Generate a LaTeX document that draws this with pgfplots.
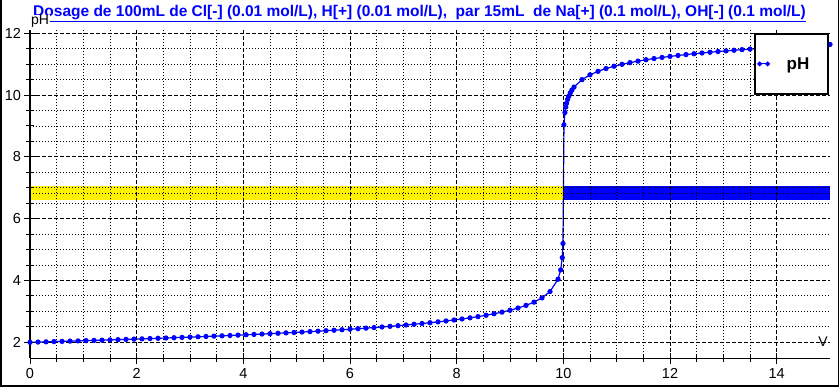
\documentclass[border=0pt]{standalone}
\usepackage{fontspec}
\setmainfont{Liberation Sans}
\usepackage{pgfplots}
\pgfplotsset{compat=1.18}
\begin{document}
\begin{tikzpicture}[x=1pt,y=1pt]
\useasboundingbox (0,0) rectangle (840,387);
\fill[white] (0,0) rectangle (840,387);
\draw[line width=1.5pt] (0.75,387) -- (0.75,0.75) -- (838.5,0.75) -- (838.5,387);
\begin{axis}[
  at={(30pt,28.7pt)}, anchor=south west, scale only axis,
  width=800pt, height=328.3pt,
  xmin=0, xmax=15, ymin=1.482, ymax=12.107,
  axis x line*=bottom, axis y line*=left,
  axis line style={line width=1.5pt, black, -},
  axis on top,
  xtick={0,2,...,14}, ytick={2,4,...,12},
  minor x tick num=3, minor y tick num=3,
  grid=both,
  major grid style={black, line width=0.9pt, dash pattern=on 4pt off 2pt},
  minor grid style={black, line width=0.9pt, dash pattern=on 1pt off 2pt},
  tick align=center, major tick length=11pt, minor tick length=8pt,
  tick style={black, line width=1pt},
  /pgf/number format/assume math mode=true,
  ticklabel style={font=\fontsize{14.5}{16}\selectfont},
  xticklabel style={yshift=-1pt},
  clip=true,
  legend style={at={(rel axis cs:0.9988,0.991)}, anchor=north east,
    draw=black, line width=2pt, fill=white, minimum width=56pt, minimum height=56pt,
    font=\fontsize{17}{19}\selectfont\bfseries, inner sep=2pt},
  legend image code/.code={\draw[blue,line width=1pt] (0pt,0pt)--(8pt,0pt);
    \fill[blue] (0pt,0pt) circle (1.8pt); \fill[blue] (8pt,0pt) circle (1.8pt);},
]
\addplot[fill=yellow, draw=none, forget plot] coordinates {(0,6.59) (10,6.59) (10,7.05) (0,7.05)} -- cycle;
\addplot[fill=blue, draw=none, forget plot] coordinates {(10,6.59) (15,6.59) (15,7.05) (10,7.05)} -- cycle;
\addplot[black, line width=0.9pt, dash pattern=on 1pt off 2pt, forget plot] coordinates {(0,6.82) (15,6.82)};
\addplot[blue, line width=1.2pt, mark=*, mark size=2pt, mark options={fill=blue}] coordinates {
(0,2.000)(0.15,2.0072)(0.30,2.0145)(0.45,2.0219)(0.60,2.0295)(0.75,2.0371)(0.90,2.0449)(1.05,2.0527)(1.20,2.0607)(1.35,2.0688)(1.50,2.0770)(1.65,2.0854)(1.80,2.0939)(1.95,2.1026)(2.10,2.1114)(2.25,2.1204)(2.40,2.1295)(2.55,2.1388)(2.70,2.1482)(2.85,2.1579)(3.00,2.1677)(3.15,2.1778)(3.30,2.1880)(3.45,2.1985)(3.60,2.2092)(3.75,2.2201)(3.90,2.2313)(4.05,2.2427)(4.20,2.2544)(4.35,2.2664)(4.50,2.2788)(4.65,2.2914)(4.80,2.3044)(4.95,2.3177)(5.10,2.3314)(5.25,2.3455)(5.40,2.3601)(5.55,2.3751)(5.70,2.3906)(5.85,2.4066)(6.00,2.4232)(6.15,2.4405)(6.30,2.4583)(6.45,2.4769)(6.60,2.4963)(6.75,2.5165)(6.90,2.5376)(7.05,2.5598)(7.20,2.5830)(7.35,2.6076)(7.50,2.6335)(7.65,2.6609)(7.80,2.6902)(7.95,2.7215)(8.10,2.7551)(8.25,2.7914)(8.40,2.8309)(8.55,2.8743)(8.70,2.9223)(8.85,2.9761)(9.00,3.0374)(9.15,3.1086)(9.30,3.1935)(9.45,3.2989)(9.60,3.4378)(9.75,3.6425)(9.90,4.0410)(9.95,4.342)(9.98,4.740)(9.993,5.196)(10.012,9.038)(10.03,9.436)(10.045,9.612)(10.06,9.737)(10.08,9.861)(10.10,9.958)(10.13,10.072)(10.16,10.162)(10.20,10.259)(10.35,10.501)(10.50,10.656)(10.65,10.769)(10.80,10.859)(10.95,10.933)(11.10,10.996)(11.25,11.051)(11.40,11.099)(11.55,11.143)(11.70,11.182)(11.85,11.219)(12.00,11.252)(12.15,11.283)(12.30,11.311)(12.45,11.338)(12.60,11.363)(12.75,11.387)(12.90,11.410)(13.05,11.431)(13.20,11.451)(13.35,11.471)(13.50,11.489)(13.65,11.507)(13.80,11.524)(13.95,11.540)(14.10,11.556)(14.25,11.571)(14.40,11.585)(14.55,11.599)(14.70,11.613)(14.85,11.626)(15.00,11.638)
};
\addlegendentry{pH}
\end{axis}
\node[anchor=base, text=blue, inner sep=0pt] at (419.5,370) {\fontsize{15.5}{17}\selectfont\bfseries\underline{Dosage de 100mL de Cl[-] (0.01 mol/L), H[+] (0.01 mol/L),\ \ par 15mL\ \ de Na[+] (0.1 mol/L), OH[-] (0.1 mol/L)}};
\node[anchor=base west, fill=white, inner sep=0.8pt] at (30,362) {\fontsize{14}{16}\selectfont pH};
\node[anchor=base, inner sep=0pt] at (823,40) {\fontsize{14}{16}\selectfont V};
\end{tikzpicture}
\end{document}
